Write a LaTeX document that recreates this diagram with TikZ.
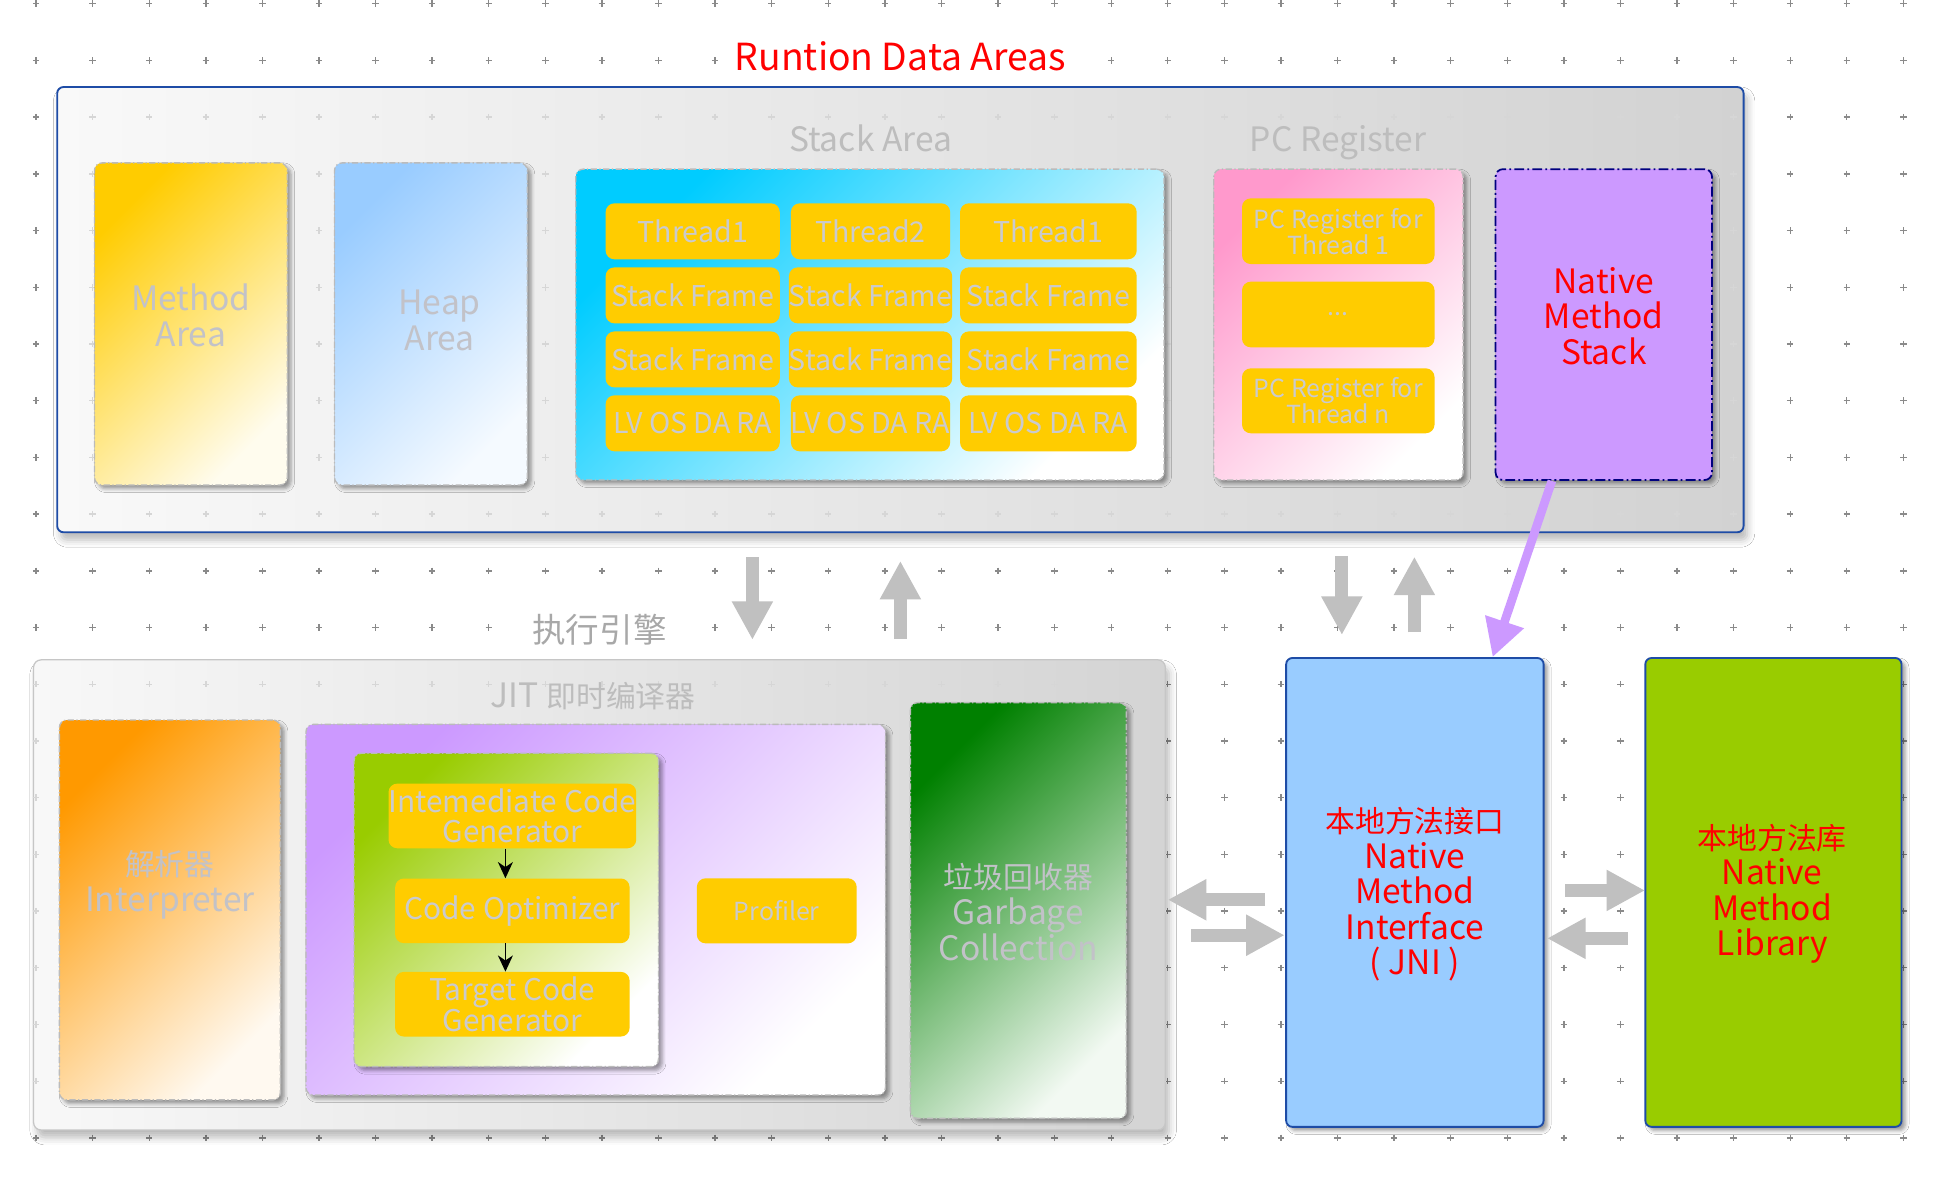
\documentclass[tikz,border=0pt]{standalone}
\usepackage{fontspec}
\setmainfont{Noto Sans CJK SC}
\usetikzlibrary{arrows.meta,shadows.blur,calc}
\definecolor{dotgray}{HTML}{8A8A8A}
\definecolor{faintdot}{HTML}{D6D6D6}
\definecolor{jblue}{HTML}{1E4CA6}
\definecolor{navyd}{HTML}{00007F}
\definecolor{boxgray}{HTML}{BBBBBB}
\definecolor{ltext}{HTML}{C2C2C8}
\definecolor{celltext}{HTML}{CACACE}
\definecolor{lbl}{HTML}{BDBDBD}
\definecolor{zgray}{HTML}{A8A8A8}
\definecolor{arrgray}{HTML}{C0C0C0}
\definecolor{cellyellow}{HTML}{FFCC00}
\definecolor{oL}{HTML}{F9F9F9}
\definecolor{oR}{HTML}{D2D2D2}
\definecolor{eL}{HTML}{F8F8F8}
\definecolor{eR}{HTML}{D4D4D4}
\definecolor{egray}{HTML}{C6C6C6}
\definecolor{cY}{HTML}{FFCC00}
\definecolor{cYe}{HTML}{FFFCEE}
\definecolor{cB}{HTML}{99CCFF}
\definecolor{cBe}{HTML}{F5FAFF}
\definecolor{cC}{HTML}{00CCFF}
\definecolor{cP}{HTML}{FF99CC}
\definecolor{cO}{HTML}{FF9900}
\definecolor{cOe}{HTML}{FFF9F0}
\definecolor{cV}{HTML}{CC99FF}
\definecolor{cG}{HTML}{99CC00}
\definecolor{cDG}{HTML}{008000}
\definecolor{cDGe}{HTML}{F2F9F2}
\newcommand\myT{\fontsize{30}{34}\selectfont}
\newcommand\myL{\fontsize{27}{30}\selectfont}
\newcommand\myA{\fontsize{27}{29}\selectfont}
\newcommand\myC{\fontsize{24}{29}\selectfont}
\newcommand\myS{\fontsize{23}{25}\selectfont}
\newcommand\myP{\fontsize{20}{21}\selectfont}
\newcommand\myK{\fontsize{24}{24.5}\selectfont}
\newcommand\myR{\fontsize{27}{28.5}\selectfont}
\newcommand\mycrossgrid[1]{%
  \foreach \i in {0,...,33}{\foreach \j in {0,...,20}{
    \pgfmathsetmacro\cx{29+45.5*\i}\pgfmathsetmacro\cy{3+45.6*\j}
    \draw[#1,line width=1.1pt] (\cx-2.6,\cy) -- (\cx+2.6,\cy) (\cx,\cy-2.6) -- (\cx,\cy+2.6);
  }}}
\tikzset{
  grad/.style 2 args={top color=#1, bottom color=#2, shading angle=45},
  sshadow/.style={blur shadow={shadow xshift=3pt,shadow yshift=-3pt,shadow blur radius=3pt,shadow opacity=40}},
  bigshadow/.style={blur shadow={shadow xshift=3pt,shadow yshift=-6pt,shadow blur radius=6pt,shadow opacity=28}},
  gbox/.style={draw=boxgray, line width=1.1pt, dash pattern=on 5pt off 2pt on 1pt off 2pt, rounded corners=6pt, inner sep=0pt, sshadow},
  ycell/.style={fill=cellyellow, rounded corners=7pt, inner sep=0pt, text=celltext, align=center},
  graytext/.style={text=ltext, align=center, inner sep=0pt},
  redt/.style={text=red, align=center},
  garrow/.style={draw=arrgray, line width=10.5pt, -{Triangle[width=31pt,length=31pt]}},
  karrow/.style={black, line width=1.4pt, -{Stealth[length=13pt,width=12pt,inset=4pt]}},
}
\begin{document}
\begin{tikzpicture}[x=1pt,y=-1pt]
\fill[white] (0,0) rectangle (1568,952);
\useasboundingbox (0,0) rectangle (1568,952);
% background dot grid
\mycrossgrid{dotgray}
% ===== Runtime data areas =====
\node[draw=jblue, line width=1.5pt, rounded corners=5pt, left color=oL, right color=oR, minimum width=1356pt, minimum height=358pt, inner sep=0pt, bigshadow] (rda) at (724,249) {};
\begin{scope}
\clip[rounded corners=5pt] (rda.north west) rectangle (rda.south east);
\mycrossgrid{faintdot}
\end{scope}
\node[fill=white, text=red, font=\myT, inner sep=3pt] (title) at (724,45) {Runtion Data Areas};
\node[text=lbl, font=\myL, anchor=base] (stacklbl) at (700,121.5) {Stack Area};
\node[text=lbl, font=\myL, anchor=base] (pclbl) at (1076,121.5) {PC Register};
% method / heap
\node[gbox, grad={cY}{cYe}, minimum width=155pt, minimum height=259pt] (method) at (153.5,260.5) {};
\node[graytext, font=\myA] (methodtxt) at ($(method.center)+(0,-7)$) {Method\\Area};
\node[gbox, grad={cB}{cBe}, minimum width=155pt, minimum height=259pt] (heap) at (346.5,260.5) {};
\node[graytext, font=\myA] (heaptxt) at ($(heap.center)+(7,-3)$) {Heap\\Area};
% stack area
\node[gbox, grad={cC}{white}, minimum width=473pt, minimum height=250pt] (stack) at (699.5,261) {};
\node[ycell, font=\myS, minimum width=140pt, minimum height=45pt] (s11) at (557,186) {Thread1};
\node[ycell, font=\myS, minimum width=128pt, minimum height=45pt] (s12) at (700,186) {Thread2};
\node[ycell, font=\myS, minimum width=142pt, minimum height=45pt] (s13) at (843,186) {Thread1};
\node[ycell, font=\myS, minimum width=140pt, minimum height=45pt] (s21) at (557,237.5) {Stack Frame};
\node[ycell, font=\myS, minimum width=128pt, minimum height=45pt] (s22) at (700,237.5) {Stack Frame};
\node[ycell, font=\myS, minimum width=142pt, minimum height=45pt] (s23) at (843,237.5) {Stack Frame};
\node[ycell, font=\myS, minimum width=140pt, minimum height=45pt] (s31) at (557,289) {Stack Frame};
\node[ycell, font=\myS, minimum width=128pt, minimum height=45pt] (s32) at (700,289) {Stack Frame};
\node[ycell, font=\myS, minimum width=142pt, minimum height=45pt] (s33) at (843,289) {Stack Frame};
\node[ycell, font=\myS, minimum width=140pt, minimum height=45pt] (s41) at (557,340.4) {LV OS DA RA};
\node[ycell, font=\myS, minimum width=128pt, minimum height=45pt] (s42) at (700,340.4) {LV OS DA RA};
\node[ycell, font=\myS, minimum width=142pt, minimum height=45pt] (s43) at (843,340.4) {LV OS DA RA};
% pc register
\node[gbox, grad={cP}{white}, minimum width=200.5pt, minimum height=250pt] (pc) at (1076.25,261) {};
\node[ycell, font=\myP, minimum width=154.8pt, minimum height=52.8pt] (pc1) at (1076.1,185.9) {PC Register for\\Thread 1};
\node[ycell, font=\myP, minimum width=154.8pt, minimum height=52.8pt] (pc2) at (1076.1,252.9) {...};
\node[ycell, font=\myP, minimum width=154.8pt, minimum height=52.2pt] (pc3) at (1076.1,322.3) {PC Register for\\Thread n};
% native method stack
\node[draw=navyd, line width=1.4pt, dash pattern=on 8pt off 2.5pt on 1.5pt off 2.5pt, rounded corners=6pt, fill=cV, minimum width=174pt, minimum height=250pt, inner sep=0pt, sshadow] (nms) at (1289.6,261) {};
\node[redt, font=\myR, inner sep=0pt] (nmstxt) at ($(nms.center)+(0,-7)$) {Native\\Method\\Stack};
% ===== execution engine =====
\node[draw=egray, line width=1pt, rounded corners=6pt, left color=eL, right color=eR, minimum width=910pt, minimum height=378pt, inner sep=0pt, bigshadow] (exec) at (482,719.6) {};
\begin{scope}
\clip[rounded corners=6pt] (exec.north west) rectangle (exec.south east);
\mycrossgrid{faintdot}
\end{scope}
\node[fill=white, text=zgray, font=\myL, inner sep=3pt] (execlbl) at (482,506) {执行引擎};
\node[text=lbl, font=\myL] (jitlbl) at (477,560) {JIT {\myC 即时编译器}};
% interpreter
\node[gbox, grad={cO}{cOe}, minimum width=177.7pt, minimum height=305.5pt] (interp) at (136.6,731.7) {};
\node[graytext, font=\myA] (interptxt) at ($(interp.center)+(0,-20)$) {{\myC 解析器}\\Interpreter};
% jit compiler
\node[gbox, grad={cV}{white}, minimum width=466pt, minimum height=298pt] (jit) at (479,731.5) {};
\node[gbox, grad={cG}{white}, minimum width=244.8pt, minimum height=252pt] (green) at (407.1,731.7) {};
\node[ycell, font=\myK, minimum width=188.5pt, minimum height=52pt] (k1) at (412,656.1) {Intemediate Code\\Generator};
\node[ycell, font=\myK, minimum width=188.5pt, minimum height=52pt] (k2) at (412,732.4) {Code Optimizer};
\node[ycell, font=\myK, minimum width=188.5pt, minimum height=52pt] (k3) at (412,807.5) {Target Code\\Generator};
\draw[karrow] ([xshift=-5.6pt]k1.south) -- ([xshift=-5.6pt]k2.north);
\draw[karrow] ([xshift=-5.6pt]k2.south) -- ([xshift=-5.6pt]k3.north);
\node[ycell, font=\myP, minimum width=128.5pt, minimum height=52.3pt] (prof) at (624.6,732.4) {Profiler};
% garbage collection
\node[gbox, grad={cDG}{cDGe}, minimum width=173.7pt, minimum height=334.3pt] (gc) at (818.9,732.1) {};
\node[graytext, font=\myA] (gctxt) at ($(gc.center)+(0,1)$) {{\myC 垃圾回收器}\\Garbage\\Collection};
% ===== native interface / library =====
\node[draw=jblue, line width=1.5pt, rounded corners=5pt, fill=cB, minimum width=207pt, minimum height=377pt, inner sep=0pt, sshadow] (jni) at (1137.7,717.6) {};
\node[redt, font=\myR, inner sep=0pt] (jnitxt) at ($(jni.center)+(0,1.5)$) {{\fontsize{24}{28.5}\selectfont 本地方法接口}\\Native\\Method\\Interface\\( JNI )};
\node[draw=jblue, line width=1.5pt, rounded corners=5pt, fill=cG, minimum width=206pt, minimum height=377pt, inner sep=0pt, sshadow] (lib) at (1426,717.6) {};
\node[redt, font=\myR, inner sep=0pt] (libtxt) at ($(lib.center)+(-1,1)$) {{\fontsize{24}{28.5}\selectfont 本地方法库}\\Native\\Method\\Library};
% ===== arrows =====
\coordinate (a1s) at (605,448);   \coordinate (a1e) at (605,514.5);
\coordinate (a2s) at (724,514);   \coordinate (a2e) at (724,451);
\coordinate (a3s) at (1079,447);  \coordinate (a3e) at (1079,510.6);
\coordinate (a4s) at (1137.3,508.4); \coordinate (a4e) at (1137.3,447.6);
\coordinate (a5s) at (1017,723.5); \coordinate (a5e) at (939,723.5);
\coordinate (a6s) at (958,752);   \coordinate (a6e) at (1033,752);
\coordinate (a7s) at (1258.6,716); \coordinate (a7e) at (1322.8,716);
\coordinate (a8s) at (1309,754.5); \coordinate (a8e) at (1244,754.5);
\foreach \k in {1,...,8}{\draw[garrow] (a\k s) -- (a\k e);}
\draw[draw=cV, line width=7pt, -{Triangle[width=31pt,length=30pt]}] ($(nms.south west)!0.262!(nms.south east)$) -- ($(jni.north west)!0.8!(jni.north east)$);
\end{tikzpicture}
\end{document}
